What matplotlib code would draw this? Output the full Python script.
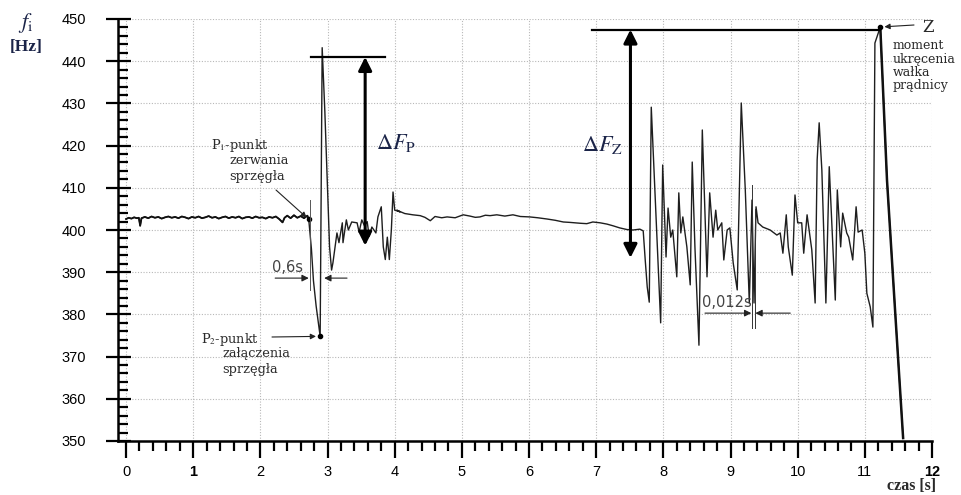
import numpy as np
import matplotlib
matplotlib.use("Agg")
import matplotlib.pyplot as plt
from matplotlib.ticker import MultipleLocator

plt.rcParams["font.family"] = ["Liberation Sans", "DejaVu Sans"]
plt.rcParams["mathtext.fontset"] = "stix"

# przebieg czestotliwosci f_i [Hz] w funkcji czasu [s]
# odcinek 1: praca ustalona do zerwania sprzegla
t_ust = [0.00, 0.04, 0.08, 0.12, 0.16, 0.19, 0.21, 0.23, 0.28, 0.33, 0.38, 0.43, 0.48,
         0.53, 0.58, 0.63, 0.68, 0.73, 0.78, 0.83, 0.88, 0.93, 0.98, 1.03, 1.08, 1.13,
         1.18, 1.23, 1.28, 1.33, 1.38, 1.43, 1.48, 1.53, 1.58, 1.63, 1.68, 1.73, 1.78,
         1.83, 1.88, 1.93, 1.98, 2.03, 2.08, 2.13, 2.18, 2.23, 2.28, 2.33, 2.36, 2.40,
         2.45, 2.50, 2.55, 2.60, 2.65, 2.70, 2.72]
f_ust = [402.6, 402.9, 402.7, 403.0, 402.8, 402.9, 401.0, 402.8, 403.1, 402.8, 403.2, 402.9, 403.1,
         402.7, 403.0, 403.2, 402.9, 403.1, 402.8, 403.2, 403.0, 402.7, 403.1, 402.9, 403.2, 402.8,
         403.0, 403.3, 402.9, 403.1, 402.7, 403.0, 403.2, 402.8, 403.1, 402.9, 403.2, 402.7, 403.0,
         403.1, 402.8, 403.2, 402.9, 403.0, 402.7, 403.1, 402.9, 403.2, 402.6, 401.8, 402.9, 403.4,
         402.8, 403.5, 402.9, 403.3, 402.8, 403.4, 402.5]

# odcinek 2: zerwanie (P1) i zalaczenie (P2) sprzegla
t_sprz = [2.74, 2.76, 2.79, 2.83, 2.89, 2.92, 2.96, 3.00, 3.03, 3.06, 3.08, 3.14, 3.17, 3.22,
          3.23, 3.28, 3.31, 3.36, 3.44, 3.47, 3.51, 3.55, 3.59, 3.62, 3.66, 3.72, 3.75, 3.80,
          3.83, 3.86, 3.89, 3.92, 3.95, 3.975, 4.00, 4.08]
f_sprz = [399.0, 395.5, 388.0, 382.0, 374.8, 443.2, 428.0, 410.0, 396.0, 390.5, 392.2, 399.3, 397.0, 401.7,
          397.0, 402.4, 400.0, 401.9, 401.7, 399.5, 402.4, 401.0, 402.0, 398.5, 400.7, 399.3, 403.1, 405.5,
          396.0, 393.0, 398.3, 393.0, 400.0, 409.0, 404.7, 404.3]

# odcinek 3: praca po zalaczeniu
t_praca = [4.03, 4.15, 4.27, 4.38, 4.45, 4.53, 4.60, 4.70, 4.78, 4.90, 5.02, 5.12, 5.20, 5.27,
           5.35, 5.42, 5.52, 5.64, 5.76, 5.87, 6.01, 6.13, 6.27, 6.39, 6.51, 6.61, 6.76, 6.86,
           6.95, 7.06, 7.16, 7.25, 7.35, 7.46, 7.55, 7.65, 7.70]
f_praca = [404.7, 403.9, 403.6, 403.4, 403.0, 402.2, 403.2, 402.9, 403.1, 402.9, 403.6, 403.3, 403.0, 403.1,
           403.5, 403.4, 403.6, 403.3, 403.6, 403.2, 403.1, 402.9, 402.6, 402.3, 401.9, 401.8, 401.6, 401.5,
           401.9, 401.7, 401.4, 401.0, 400.5, 400.1, 400.0, 400.2, 399.8]

# odcinek 4: drgania, ukrecenie walka (Z) i spadek
t_drg = [7.73, 7.76, 7.79, 7.82, 7.96, 7.99, 8.04, 8.07, 8.11, 8.14, 8.20, 8.23, 8.26, 8.29,
         8.35, 8.40, 8.43, 8.47, 8.53, 8.58, 8.65, 8.69, 8.74, 8.78, 8.81, 8.87, 8.90, 8.95,
         8.99, 9.04, 9.10, 9.16, 9.22, 9.28, 9.32, 9.35, 9.38, 9.41, 9.48, 9.59, 9.69, 9.74,
         9.78, 9.83, 9.86, 9.92, 9.96, 10.00, 10.06, 10.09, 10.14, 10.21, 10.26, 10.29, 10.32,
         10.36, 10.42, 10.47, 10.56, 10.59, 10.64, 10.67, 10.73, 10.76, 10.82, 10.87, 10.90,
         10.96, 11.00, 11.03, 11.08, 11.12, 11.15, 11.23, 11.33, 11.45, 11.49, 11.57]
f_drg = [392.9, 386.5, 382.9, 429.1, 378.0, 415.4, 393.6, 405.2, 398.3, 400.0, 388.9, 408.8, 399.3, 403.1,
         396.0, 387.0, 416.1, 396.0, 372.7, 423.7, 388.9, 408.8, 398.3, 404.7, 400.0, 401.7, 392.9, 400.0,
         400.5, 392.2, 385.8, 430.1, 409.5, 382.7, 407.1, 382.7, 405.5, 401.7, 400.7, 400.0, 398.8, 399.3,
         394.5, 403.6, 396.0, 389.3, 408.3, 401.7, 401.7, 394.5, 403.6, 395.3, 382.7, 416.6, 425.4,
         414.2, 382.7, 415.0, 383.4, 409.5, 396.0, 404.0, 399.3, 398.3, 392.9, 405.5, 399.5,
         400.0, 394.5, 385.0, 381.8, 377.0, 444.3, 448.1, 411.8, 381.0, 370.9, 350.7]

czas = np.array(t_ust + t_sprz + t_praca + t_drg)
fi = np.array(f_ust + f_sprz + f_praca + f_drg)

i_p1 = len(t_ust) - 1
i_p2 = len(t_ust) + 4
i_z = len(czas) - 5

W, H = 962, 495


def fx(x):
    return x / W


def fy(y):
    return 1 - y / H


fig = plt.figure(figsize=(W / 100, H / 100), dpi=100)
ax = fig.add_axes([fx(118), fy(441), (932 - 118) / W, (441 - 19) / H])

ax.plot(czas, fi, color="#1e1e1e", lw=1.0)
ax.plot(czas[:i_p1 + 1], fi[:i_p1 + 1], color="#111111", lw=1.3)
ax.plot(czas[i_z:], fi[i_z:], color="#111111", lw=1.8)
ax.plot(czas[[i_p1, i_p2, i_z]], fi[[i_p1, i_p2, i_z]], "o", color="black", ms=3)

ax.set_xlim(-0.12, 12.0)
ax.set_ylim(350, 450)
ax.xaxis.set_major_locator(MultipleLocator(1))
ax.xaxis.set_minor_locator(MultipleLocator(0.2))
ax.yaxis.set_major_locator(MultipleLocator(10))
ax.yaxis.set_minor_locator(MultipleLocator(2))
ax.grid(True, which="major", color="#b8b8b8", lw=0.8, linestyle=(0, (1, 1.5)))
ax.set_axisbelow(True)

for s in ["top", "right"]:
    ax.spines[s].set_visible(False)
for s in ["left", "bottom"]:
    ax.spines[s].set_linewidth(1.8)

ax.tick_params(axis="x", which="major", direction="out", length=12, width=1.6, labelsize=10.5, pad=5)
ax.tick_params(axis="x", which="minor", direction="out", length=7, width=1.6)
ax.tick_params(axis="y", which="major", direction="inout", length=18, width=1.6, labelsize=10.5, pad=14)
ax.tick_params(axis="y", which="minor", direction="in", length=7, width=1.6)
for lab in ax.get_xticklabels():
    if lab.get_text() in ("1", "12"):
        lab.set_fontweight("bold")

serif = ["DejaVu Serif"]
granat = "#1b2448"
txt = "#2a2a2a"
opis = dict(family=serif, fontsize=9.3, color=txt, va="center")
wym = dict(family=["DejaVu Sans"], fontsize=10.5, color="#444444", ha="center", va="center")

# opis osi
fig.text(fx(26), fy(23), r"$f_{\mathrm{i}}$", fontsize=16, color=granat, ha="center", va="center")
fig.text(fx(26), fy(47), "[Hz]", family=["Liberation Serif"], fontsize=12.5, fontweight="bold",
         color=granat, ha="center", va="center")
fig.text(fx(912), fy(486), "czas [s]", family=["Liberation Serif"], fontsize=11.5, fontweight="bold",
         color=txt, ha="center", va="center")

# Delta F_P
ax.plot([2.75, 3.86], [441, 441], color="black", lw=1.6)
ax.annotate("", xy=(3.56, 441), xytext=(3.56, 396.3),
            arrowprops=dict(arrowstyle="<|-|>", lw=2.2, color="black", mutation_scale=20,
                            shrinkA=0, shrinkB=0))
ax.text(4.02, 420.6, r"$\Delta F_{\mathrm{P}}$", fontsize=16, color=granat, ha="center", va="center")

# Delta F_Z
ax.plot([6.94, 11.22], [447.5, 447.5], color="black", lw=1.6)
ax.annotate("", xy=(7.51, 447.5), xytext=(7.51, 393.4),
            arrowprops=dict(arrowstyle="<|-|>", lw=2.2, color="black", mutation_scale=20,
                            shrinkA=0, shrinkB=0))
ax.text(7.09, 420.1, r"$\Delta F_{\mathrm{Z}}$", fontsize=16, color=granat, ha="center", va="center")

# P1
fig.text(fx(211), fy(146), r"P$_1$-punkt", **opis)
fig.text(fx(229), fy(161), "zerwania", **opis)
fig.text(fx(229), fy(176), "sprzęgła", **opis)
ax.annotate("", xy=(czas[i_p1], fi[i_p1]), xytext=(fx(276), fy(190)), textcoords="figure fraction",
            arrowprops=dict(arrowstyle="-|>", lw=0.8, color="#222222", mutation_scale=8,
                            shrinkA=0, shrinkB=2))

# P2
fig.text(fx(201), fy(339), r"P$_2$-punkt", **opis)
fig.text(fx(222), fy(354), "załączenia", **opis)
fig.text(fx(222), fy(369), "sprzęgła", **opis)
ax.annotate("", xy=(czas[i_p2], fi[i_p2]), xytext=(fx(272), fy(337)), textcoords="figure fraction",
            arrowprops=dict(arrowstyle="-|>", lw=0.8, color="#222222", mutation_scale=8,
                            shrinkA=0, shrinkB=3))

# 0,6 s
ax.plot([2.74, 2.74], [385.8, 407.1], color="#555555", lw=0.7)
ax.annotate("", xy=(2.72, 388.6), xytext=(2.22, 388.6),
            arrowprops=dict(arrowstyle="-|>", lw=0.8, color="#222222", mutation_scale=10, shrinkA=0, shrinkB=0))
ax.annotate("", xy=(2.95, 388.6), xytext=(3.29, 388.6),
            arrowprops=dict(arrowstyle="-|>", lw=0.8, color="#222222", mutation_scale=10, shrinkA=0, shrinkB=0))
ax.text(2.40, 391.2, "0,6s", **wym)

# 0,012 s
ax.plot([9.32, 9.32], [376.8, 410.7], color="#333333", lw=0.7)
ax.plot([9.36, 9.36], [376.8, 405.0], color="#333333", lw=0.7)
ax.annotate("", xy=(9.31, 380.3), xytext=(8.62, 380.3),
            arrowprops=dict(arrowstyle="-|>", lw=0.8, color="#222222", mutation_scale=10, shrinkA=0, shrinkB=0))
ax.annotate("", xy=(9.37, 380.3), xytext=(9.89, 380.3),
            arrowprops=dict(arrowstyle="-|>", lw=0.8, color="#222222", mutation_scale=10, shrinkA=0, shrinkB=0))
ax.text(8.95, 382.9, "0,012s", **wym)

# Z
ax.annotate("", xy=(czas[i_z], fi[i_z]), xytext=(fx(914), fy(25)), textcoords="figure fraction",
            arrowprops=dict(arrowstyle="-|>", lw=0.8, color="#222222", mutation_scale=8,
                            shrinkA=0, shrinkB=3), annotation_clip=False)
fig.text(fx(928), fy(27), "Z", family=serif, fontsize=12, color=txt, ha="center", va="center")
fig.text(fx(893), fy(39), "moment\nukręcenia\nwałka\nprądnicy", family=serif, fontsize=9,
         color=txt, ha="left", va="top", linespacing=1.05)

fig.savefig("out.png", dpi=100)
